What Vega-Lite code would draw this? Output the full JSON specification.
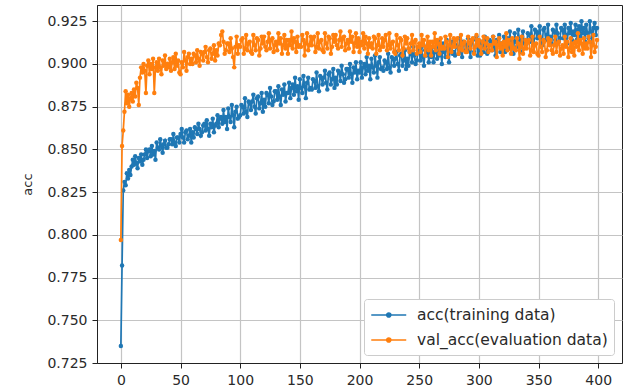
{
"$schema": "https://vega.github.io/schema/vega-lite/v6.json",
"width": 525, "height": 358,
"autosize": {"type": "none"},
"padding": {"left": 97, "top": 5, "right": 11, "bottom": 27},
"background": "white",
"config": {
 "font": "DejaVu Sans",
 "view": {"stroke": "#222222", "strokeWidth": 1},
 "axis": {"gridColor": "#c4c4c4", "gridWidth": 1.2, "domainColor": "#222222", "tickColor": "#222222", "labelColor": "#2a2a2a", "labelFontSize": 14, "tickSize": 5, "labelPadding": 5, "labelFont": "DejaVu Sans", "titleFont": "DejaVu Sans", "titleFontWeight": "normal", "titleColor": "#2a2a2a", "titleFontSize": 13}
},
"data": {"values": [
{"e":0,"t":0.735,"v":0.797},{"e":1,"t":0.782,"v":0.852},{"e":2,"t":0.826,"v":0.861},{"e":3,"t":0.831,"v":0.872},{"e":4,"t":0.829,"v":0.884},{"e":5,"t":0.836,"v":0.877},{"e":6,"t":0.833,"v":0.882},{"e":7,"t":0.838,"v":0.875},{"e":8,"t":0.835,"v":0.880},{"e":9,"t":0.840,"v":0.883},
{"e":10,"t":0.844,"v":0.878},{"e":11,"t":0.841,"v":0.885},{"e":12,"t":0.846,"v":0.881},{"e":13,"t":0.842,"v":0.889},{"e":14,"t":0.839,"v":0.886},{"e":15,"t":0.845,"v":0.876},{"e":16,"t":0.843,"v":0.892},{"e":17,"t":0.847,"v":0.898},{"e":18,"t":0.841,"v":0.895},{"e":19,"t":0.844,"v":0.900},
{"e":20,"t":0.847,"v":0.896},{"e":21,"t":0.850,"v":0.883},{"e":22,"t":0.845,"v":0.899},{"e":23,"t":0.849,"v":0.902},{"e":24,"t":0.850,"v":0.894},{"e":25,"t":0.846,"v":0.900},{"e":26,"t":0.852,"v":0.897},{"e":27,"t":0.847,"v":0.903},{"e":28,"t":0.849,"v":0.883},{"e":29,"t":0.844,"v":0.898},
{"e":30,"t":0.854,"v":0.901},{"e":31,"t":0.851,"v":0.896},{"e":32,"t":0.850,"v":0.903},{"e":33,"t":0.856,"v":0.898},{"e":34,"t":0.852,"v":0.894},{"e":35,"t":0.848,"v":0.902},{"e":36,"t":0.853,"v":0.899},{"e":37,"t":0.855,"v":0.905},{"e":38,"t":0.851,"v":0.897},{"e":39,"t":0.851,"v":0.900},
{"e":40,"t":0.853,"v":0.898},{"e":41,"t":0.856,"v":0.903},{"e":42,"t":0.856,"v":0.896},{"e":43,"t":0.853,"v":0.901},{"e":44,"t":0.859,"v":0.904},{"e":45,"t":0.854,"v":0.897},{"e":46,"t":0.852,"v":0.906},{"e":47,"t":0.857,"v":0.899},{"e":48,"t":0.857,"v":0.902},{"e":49,"t":0.854,"v":0.895},
{"e":50,"t":0.859,"v":0.894},{"e":51,"t":0.862,"v":0.901},{"e":52,"t":0.857,"v":0.898},{"e":53,"t":0.854,"v":0.907},{"e":54,"t":0.860,"v":0.902},{"e":55,"t":0.861,"v":0.896},{"e":56,"t":0.856,"v":0.904},{"e":57,"t":0.858,"v":0.906},{"e":58,"t":0.862,"v":0.900},{"e":59,"t":0.854,"v":0.903},
{"e":60,"t":0.860,"v":0.900},{"e":61,"t":0.857,"v":0.906},{"e":62,"t":0.863,"v":0.905},{"e":63,"t":0.862,"v":0.901},{"e":64,"t":0.859,"v":0.908},{"e":65,"t":0.865,"v":0.903},{"e":66,"t":0.862,"v":0.899},{"e":67,"t":0.858,"v":0.907},{"e":68,"t":0.860,"v":0.906},{"e":69,"t":0.864,"v":0.902},
{"e":70,"t":0.865,"v":0.907},{"e":71,"t":0.861,"v":0.910},{"e":72,"t":0.867,"v":0.904},{"e":73,"t":0.862,"v":0.901},{"e":74,"t":0.858,"v":0.908},{"e":75,"t":0.865,"v":0.909},{"e":76,"t":0.863,"v":0.903},{"e":77,"t":0.868,"v":0.906},{"e":78,"t":0.860,"v":0.911},{"e":79,"t":0.864,"v":0.902},
{"e":80,"t":0.865,"v":0.908},{"e":81,"t":0.870,"v":0.905},{"e":82,"t":0.863,"v":0.912},{"e":83,"t":0.868,"v":0.911},{"e":84,"t":0.869,"v":0.917},{"e":85,"t":0.865,"v":0.919},{"e":86,"t":0.873,"v":0.913},{"e":87,"t":0.866,"v":0.906},{"e":88,"t":0.869,"v":0.908},{"e":89,"t":0.862,"v":0.912},
{"e":90,"t":0.874,"v":0.912},{"e":91,"t":0.869,"v":0.907},{"e":92,"t":0.866,"v":0.915},{"e":93,"t":0.876,"v":0.909},{"e":94,"t":0.870,"v":0.904},{"e":95,"t":0.863,"v":0.898},{"e":96,"t":0.872,"v":0.910},{"e":97,"t":0.875,"v":0.916},{"e":98,"t":0.868,"v":0.906},{"e":99,"t":0.869,"v":0.911},
{"e":100,"t":0.870,"v":0.910},{"e":101,"t":0.876,"v":0.914},{"e":102,"t":0.875,"v":0.915},{"e":103,"t":0.871,"v":0.906},{"e":104,"t":0.880,"v":0.909},{"e":105,"t":0.872,"v":0.917},{"e":106,"t":0.869,"v":0.908},{"e":107,"t":0.878,"v":0.912},{"e":108,"t":0.877,"v":0.913},{"e":109,"t":0.873,"v":0.907},
{"e":110,"t":0.878,"v":0.906},{"e":111,"t":0.882,"v":0.917},{"e":112,"t":0.875,"v":0.911},{"e":113,"t":0.871,"v":0.908},{"e":114,"t":0.880,"v":0.915},{"e":115,"t":0.881,"v":0.914},{"e":116,"t":0.874,"v":0.905},{"e":117,"t":0.877,"v":0.909},{"e":118,"t":0.883,"v":0.916},{"e":119,"t":0.872,"v":0.912},
{"e":120,"t":0.879,"v":0.916},{"e":121,"t":0.875,"v":0.910},{"e":122,"t":0.883,"v":0.908},{"e":123,"t":0.882,"v":0.913},{"e":124,"t":0.877,"v":0.918},{"e":125,"t":0.886,"v":0.909},{"e":126,"t":0.881,"v":0.914},{"e":127,"t":0.876,"v":0.915},{"e":128,"t":0.878,"v":0.907},{"e":129,"t":0.884,"v":0.911},
{"e":130,"t":0.884,"v":0.913},{"e":131,"t":0.879,"v":0.908},{"e":132,"t":0.887,"v":0.918},{"e":133,"t":0.881,"v":0.912},{"e":134,"t":0.876,"v":0.915},{"e":135,"t":0.885,"v":0.906},{"e":136,"t":0.882,"v":0.911},{"e":137,"t":0.888,"v":0.917},{"e":138,"t":0.878,"v":0.909},{"e":139,"t":0.883,"v":0.914},
{"e":140,"t":0.883,"v":0.906},{"e":141,"t":0.889,"v":0.914},{"e":142,"t":0.880,"v":0.911},{"e":143,"t":0.886,"v":0.919},{"e":144,"t":0.888,"v":0.909},{"e":145,"t":0.882,"v":0.915},{"e":146,"t":0.892,"v":0.913},{"e":147,"t":0.884,"v":0.907},{"e":148,"t":0.887,"v":0.916},{"e":149,"t":0.879,"v":0.910},
{"e":150,"t":0.891,"v":0.911},{"e":151,"t":0.886,"v":0.910},{"e":152,"t":0.883,"v":0.917},{"e":153,"t":0.893,"v":0.914},{"e":154,"t":0.887,"v":0.905},{"e":155,"t":0.880,"v":0.912},{"e":156,"t":0.889,"v":0.918},{"e":157,"t":0.892,"v":0.908},{"e":158,"t":0.885,"v":0.911},{"e":159,"t":0.886,"v":0.916},
{"e":160,"t":0.885,"v":0.911},{"e":161,"t":0.891,"v":0.915},{"e":162,"t":0.890,"v":0.916},{"e":163,"t":0.886,"v":0.907},{"e":164,"t":0.895,"v":0.910},{"e":165,"t":0.887,"v":0.918},{"e":166,"t":0.884,"v":0.909},{"e":167,"t":0.893,"v":0.913},{"e":168,"t":0.892,"v":0.914},{"e":169,"t":0.888,"v":0.908},
{"e":170,"t":0.892,"v":0.907},{"e":171,"t":0.896,"v":0.918},{"e":172,"t":0.889,"v":0.912},{"e":173,"t":0.885,"v":0.909},{"e":174,"t":0.894,"v":0.916},{"e":175,"t":0.895,"v":0.915},{"e":176,"t":0.888,"v":0.906},{"e":177,"t":0.891,"v":0.910},{"e":178,"t":0.897,"v":0.917},{"e":179,"t":0.886,"v":0.913},
{"e":180,"t":0.892,"v":0.917},{"e":181,"t":0.888,"v":0.911},{"e":182,"t":0.896,"v":0.909},{"e":183,"t":0.895,"v":0.914},{"e":184,"t":0.890,"v":0.919},{"e":185,"t":0.899,"v":0.910},{"e":186,"t":0.894,"v":0.915},{"e":187,"t":0.889,"v":0.916},{"e":188,"t":0.891,"v":0.908},{"e":189,"t":0.897,"v":0.912},
{"e":190,"t":0.897,"v":0.914},{"e":191,"t":0.892,"v":0.909},{"e":192,"t":0.900,"v":0.919},{"e":193,"t":0.894,"v":0.913},{"e":194,"t":0.889,"v":0.916},{"e":195,"t":0.898,"v":0.907},{"e":196,"t":0.895,"v":0.912},{"e":197,"t":0.901,"v":0.918},{"e":198,"t":0.891,"v":0.910},{"e":199,"t":0.896,"v":0.915},
{"e":200,"t":0.895,"v":0.907},{"e":201,"t":0.901,"v":0.913},{"e":202,"t":0.892,"v":0.911},{"e":203,"t":0.898,"v":0.918},{"e":204,"t":0.900,"v":0.909},{"e":205,"t":0.894,"v":0.916},{"e":206,"t":0.904,"v":0.912},{"e":207,"t":0.896,"v":0.906},{"e":208,"t":0.899,"v":0.915},{"e":209,"t":0.891,"v":0.910},
{"e":210,"t":0.903,"v":0.912},{"e":211,"t":0.898,"v":0.909},{"e":212,"t":0.895,"v":0.916},{"e":213,"t":0.905,"v":0.915},{"e":214,"t":0.899,"v":0.906},{"e":215,"t":0.892,"v":0.911},{"e":216,"t":0.901,"v":0.917},{"e":217,"t":0.904,"v":0.908},{"e":218,"t":0.897,"v":0.910},{"e":219,"t":0.898,"v":0.915},
{"e":220,"t":0.896,"v":0.910},{"e":221,"t":0.902,"v":0.914},{"e":222,"t":0.901,"v":0.917},{"e":223,"t":0.897,"v":0.908},{"e":224,"t":0.906,"v":0.911},{"e":225,"t":0.898,"v":0.918},{"e":226,"t":0.895,"v":0.909},{"e":227,"t":0.904,"v":0.912},{"e":228,"t":0.903,"v":0.913},{"e":229,"t":0.899,"v":0.907},
{"e":230,"t":0.903,"v":0.906},{"e":231,"t":0.907,"v":0.917},{"e":232,"t":0.900,"v":0.911},{"e":233,"t":0.896,"v":0.908},{"e":234,"t":0.905,"v":0.915},{"e":235,"t":0.906,"v":0.914},{"e":236,"t":0.899,"v":0.905},{"e":237,"t":0.902,"v":0.909},{"e":238,"t":0.908,"v":0.916},{"e":239,"t":0.897,"v":0.912},
{"e":240,"t":0.903,"v":0.915},{"e":241,"t":0.899,"v":0.909},{"e":242,"t":0.907,"v":0.907},{"e":243,"t":0.906,"v":0.912},{"e":244,"t":0.901,"v":0.917},{"e":245,"t":0.910,"v":0.908},{"e":246,"t":0.905,"v":0.913},{"e":247,"t":0.900,"v":0.914},{"e":248,"t":0.902,"v":0.906},{"e":249,"t":0.908,"v":0.910},
{"e":250,"t":0.907,"v":0.912},{"e":251,"t":0.902,"v":0.907},{"e":252,"t":0.910,"v":0.917},{"e":253,"t":0.904,"v":0.911},{"e":254,"t":0.899,"v":0.914},{"e":255,"t":0.908,"v":0.905},{"e":256,"t":0.905,"v":0.910},{"e":257,"t":0.911,"v":0.916},{"e":258,"t":0.901,"v":0.908},{"e":259,"t":0.906,"v":0.913},
{"e":260,"t":0.904,"v":0.905},{"e":261,"t":0.910,"v":0.913},{"e":262,"t":0.901,"v":0.910},{"e":263,"t":0.907,"v":0.918},{"e":264,"t":0.909,"v":0.908},{"e":265,"t":0.903,"v":0.914},{"e":266,"t":0.913,"v":0.912},{"e":267,"t":0.905,"v":0.906},{"e":268,"t":0.908,"v":0.915},{"e":269,"t":0.900,"v":0.909},
{"e":270,"t":0.912,"v":0.910},{"e":271,"t":0.907,"v":0.909},{"e":272,"t":0.904,"v":0.916},{"e":273,"t":0.914,"v":0.913},{"e":274,"t":0.908,"v":0.904},{"e":275,"t":0.901,"v":0.911},{"e":276,"t":0.910,"v":0.917},{"e":277,"t":0.913,"v":0.907},{"e":278,"t":0.906,"v":0.910},{"e":279,"t":0.907,"v":0.915},
{"e":280,"t":0.905,"v":0.910},{"e":281,"t":0.911,"v":0.914},{"e":282,"t":0.910,"v":0.915},{"e":283,"t":0.906,"v":0.906},{"e":284,"t":0.915,"v":0.909},{"e":285,"t":0.907,"v":0.917},{"e":286,"t":0.904,"v":0.908},{"e":287,"t":0.913,"v":0.912},{"e":288,"t":0.912,"v":0.913},{"e":289,"t":0.908,"v":0.907},
{"e":290,"t":0.911,"v":0.907},{"e":291,"t":0.915,"v":0.916},{"e":292,"t":0.908,"v":0.912},{"e":293,"t":0.904,"v":0.909},{"e":294,"t":0.913,"v":0.914},{"e":295,"t":0.914,"v":0.915},{"e":296,"t":0.907,"v":0.906},{"e":297,"t":0.910,"v":0.910},{"e":298,"t":0.916,"v":0.917},{"e":299,"t":0.905,"v":0.911},
{"e":300,"t":0.909,"v":0.914},{"e":301,"t":0.905,"v":0.910},{"e":302,"t":0.913,"v":0.906},{"e":303,"t":0.912,"v":0.913},{"e":304,"t":0.907,"v":0.916},{"e":305,"t":0.916,"v":0.909},{"e":306,"t":0.911,"v":0.912},{"e":307,"t":0.906,"v":0.915},{"e":308,"t":0.908,"v":0.907},{"e":309,"t":0.914,"v":0.911},
{"e":310,"t":0.913,"v":0.911},{"e":311,"t":0.908,"v":0.908},{"e":312,"t":0.916,"v":0.916},{"e":313,"t":0.910,"v":0.912},{"e":314,"t":0.905,"v":0.913},{"e":315,"t":0.914,"v":0.904},{"e":316,"t":0.911,"v":0.911},{"e":317,"t":0.917,"v":0.915},{"e":318,"t":0.907,"v":0.909},{"e":319,"t":0.912,"v":0.912},
{"e":320,"t":0.910,"v":0.905},{"e":321,"t":0.916,"v":0.913},{"e":322,"t":0.907,"v":0.910},{"e":323,"t":0.913,"v":0.918},{"e":324,"t":0.915,"v":0.908},{"e":325,"t":0.909,"v":0.914},{"e":326,"t":0.919,"v":0.912},{"e":327,"t":0.911,"v":0.906},{"e":328,"t":0.914,"v":0.915},{"e":329,"t":0.906,"v":0.909},
{"e":330,"t":0.918,"v":0.909},{"e":331,"t":0.913,"v":0.908},{"e":332,"t":0.910,"v":0.915},{"e":333,"t":0.920,"v":0.912},{"e":334,"t":0.914,"v":0.903},{"e":335,"t":0.907,"v":0.910},{"e":336,"t":0.916,"v":0.916},{"e":337,"t":0.919,"v":0.906},{"e":338,"t":0.912,"v":0.909},{"e":339,"t":0.913,"v":0.914},
{"e":340,"t":0.912,"v":0.909},{"e":341,"t":0.918,"v":0.913},{"e":342,"t":0.917,"v":0.914},{"e":343,"t":0.913,"v":0.905},{"e":344,"t":0.922,"v":0.908},{"e":345,"t":0.914,"v":0.916},{"e":346,"t":0.911,"v":0.907},{"e":347,"t":0.920,"v":0.911},{"e":348,"t":0.919,"v":0.912},{"e":349,"t":0.915,"v":0.906},
{"e":350,"t":0.918,"v":0.905},{"e":351,"t":0.922,"v":0.916},{"e":352,"t":0.915,"v":0.910},{"e":353,"t":0.911,"v":0.907},{"e":354,"t":0.920,"v":0.914},{"e":355,"t":0.921,"v":0.913},{"e":356,"t":0.914,"v":0.904},{"e":357,"t":0.917,"v":0.908},{"e":358,"t":0.923,"v":0.915},{"e":359,"t":0.912,"v":0.911},
{"e":360,"t":0.916,"v":0.914},{"e":361,"t":0.912,"v":0.908},{"e":362,"t":0.920,"v":0.906},{"e":363,"t":0.919,"v":0.911},{"e":364,"t":0.914,"v":0.916},{"e":365,"t":0.923,"v":0.907},{"e":366,"t":0.918,"v":0.912},{"e":367,"t":0.913,"v":0.913},{"e":368,"t":0.915,"v":0.905},{"e":369,"t":0.921,"v":0.909},
{"e":370,"t":0.920,"v":0.911},{"e":371,"t":0.915,"v":0.906},{"e":372,"t":0.923,"v":0.916},{"e":373,"t":0.917,"v":0.910},{"e":374,"t":0.912,"v":0.913},{"e":375,"t":0.921,"v":0.904},{"e":376,"t":0.918,"v":0.909},{"e":377,"t":0.924,"v":0.915},{"e":378,"t":0.914,"v":0.907},{"e":379,"t":0.919,"v":0.912},
{"e":380,"t":0.917,"v":0.905},{"e":381,"t":0.923,"v":0.913},{"e":382,"t":0.914,"v":0.910},{"e":383,"t":0.920,"v":0.918},{"e":384,"t":0.922,"v":0.908},{"e":385,"t":0.916,"v":0.914},{"e":386,"t":0.925,"v":0.912},{"e":387,"t":0.918,"v":0.906},{"e":388,"t":0.921,"v":0.915},{"e":389,"t":0.913,"v":0.909},
{"e":390,"t":0.923,"v":0.912},{"e":391,"t":0.918,"v":0.909},{"e":392,"t":0.915,"v":0.916},{"e":393,"t":0.925,"v":0.913},{"e":394,"t":0.919,"v":0.904},{"e":395,"t":0.912,"v":0.911},{"e":396,"t":0.921,"v":0.917},{"e":397,"t":0.924,"v":0.907},{"e":398,"t":0.917,"v":0.910},{"e":399,"t":0.921,"v":0.914}
]},
"encoding": {
 "x": {"field": "e", "type": "quantitative", "title": null,
  "scale": {"domain": [-20, 419.95], "nice": false, "zero": false},
  "axis": {"values": [0, 50, 100, 150, 200, 250, 300, 350, 400], "labelFlush": false, "labelOverlap": false}}
},
"layer": [
 {"mark": {"type": "line", "strokeWidth": 1.7, "point": {"filled": true, "size": 20}},
  "encoding": {
   "y": {"field": "t", "type": "quantitative", "title": "acc",
    "scale": {"domain": [0.725, 0.9345], "nice": false, "zero": false},
    "axis": {"values": [0.725, 0.75, 0.775, 0.8, 0.825, 0.85, 0.875, 0.9, 0.925], "format": ".3f", "labelFlush": false, "labelOverlap": false, "titlePadding": 12}},
   "color": {"datum": "acc(training data)", "type": "nominal",
    "scale": {"domain": ["acc(training data)", "val_acc(evaluation data)"], "range": ["#1f77b4", "#ff7f0e"]},
    "legend": {"orient": "bottom-right", "offset": 8, "title": null, "padding": 6, "strokeColor": "#cccccc", "fillColor": "white", "cornerRadius": 3, "labelFontSize": 15.5, "labelColor": "#2a2a2a", "labelFont": "DejaVu Sans", "labelLimit": 400, "symbolType": "M-1,0H3M0.77,0A0.23,0.23 0 1,1 1.23,0A0.23,0.23 0 1,1 0.77,0", "symbolSize": 306, "symbolStrokeWidth": 1.7, "labelOffset": 27, "rowPadding": 6}}
  }},
 {"mark": {"type": "line", "strokeWidth": 1.7, "point": {"filled": true, "size": 20}},
  "encoding": {
   "y": {"field": "v", "type": "quantitative", "title": "acc",
    "scale": {"domain": [0.725, 0.9345], "nice": false, "zero": false},
    "axis": {"values": [0.725, 0.75, 0.775, 0.8, 0.825, 0.85, 0.875, 0.9, 0.925], "format": ".3f", "labelFlush": false, "labelOverlap": false, "titlePadding": 12}},
   "color": {"datum": "val_acc(evaluation data)", "type": "nominal"}
  }}
]
}
